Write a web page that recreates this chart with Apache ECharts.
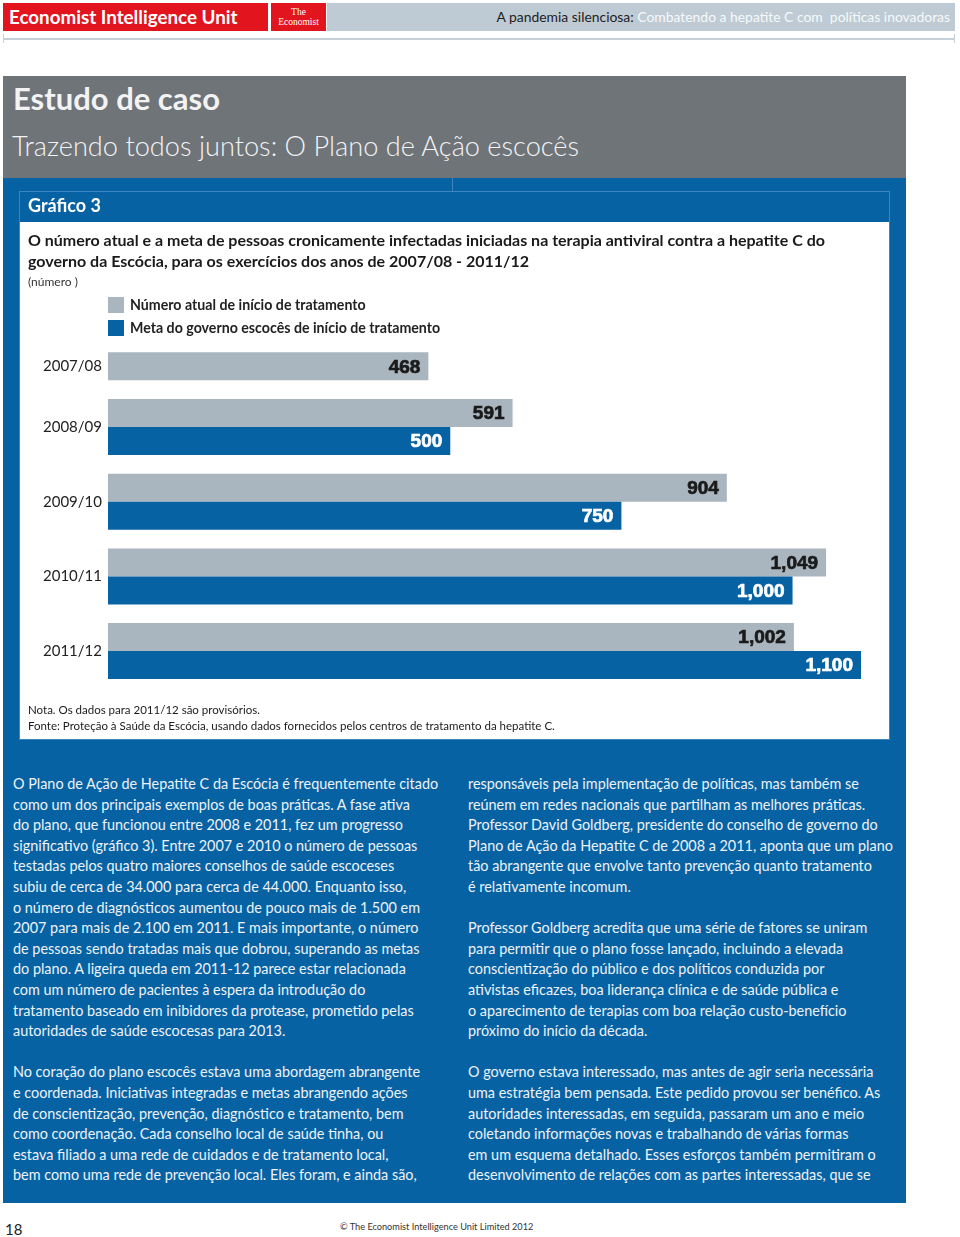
<!DOCTYPE html>
<html>
<head>
<meta charset="utf-8">
<script src="https://cdn.jsdelivr.net/npm/echarts@6/dist/echarts.min.js"></script>
<style>
  html, body { margin: 0; padding: 0; background: #ffffff; }
  #page { position: relative; width: 960px; height: 1237px; overflow: hidden; font-family: Lato, "Open Sans", sans-serif; }
  .abs { position: absolute; }
  #eiu { left: 3px; top: 3px; width: 265px; height: 28px; background: #e2141d; color: #fff; font: bold 18.8px Lato, sans-serif; line-height: 28px; padding-left: 6px; box-sizing: border-box; white-space: nowrap; }
  #econ { left: 271px; top: 3px; width: 55px; height: 28px; background: #e2141d; color: #fff; font: 9.5px "Liberation Serif", "DejaVu Serif", serif; line-height: 9.5px; text-align: center; padding-top: 5px; box-sizing: border-box; }
  #hband { left: 327px; top: 3px; width: 628px; height: 28px; background: #bfcbd4; }
  #htext { right: 10px; top: 3px; height: 28px; line-height: 28px; font-size: 13.9px; white-space: nowrap; color: #f6f9fb; }
  #htext b { font-weight: normal; color: #1e1e1e; }
  #hline { left: 3px; top: 38px; width: 952px; height: 2px; background: #c6d0d8; }
  #greyblk { left: 3px; top: 76px; width: 903px; height: 102px; background: #6f7479; }
  #case { left: 13px; top: 79px; font: bold 31px Lato, sans-serif; color: #f3f3f3; white-space: nowrap; }
  #sub { left: 12px; top: 129px; font: 300 27.2px Lato, sans-serif; color: #f3f3f3; white-space: nowrap; }
  #blueblk { left: 3px; top: 178px; width: 903px; height: 1025px; background: #0762a3; }
  #chartframe { left: 19px; top: 191px; width: 871px; height: 549px; border: 1px solid #3d85bf; box-sizing: border-box; }
  #whitepanel { left: 20px; top: 222px; width: 869px; height: 517px; background: #ffffff; }
  #chart { left: 20px; top: 192px; width: 869px; height: 547px; }
  .col { top: 774px; font-size: 14.4px; line-height: 20.6px; color: #edf2f7; white-space: nowrap; }
  #pg { left: 5px; top: 1220px; font-size: 15px; color: #222; }
  #copy { left: 340px; top: 1221px; font-size: 9.2px; color: #333; white-space: nowrap; }
</style>
</head>
<body>
<div id="page">
  <div id="eiu" class="abs">Economist Intelligence Unit</div>
  <div id="econ" class="abs">The<br>Economist</div>
  <div id="hband" class="abs"></div>
  <div id="htext" class="abs"><b>A pandemia silenciosa:</b> Combatendo a hepatite C com&nbsp; políticas inovadoras</div>
  <div id="hline" class="abs"></div>
  <div class="abs" style="left:3px;top:34px;width:1px;height:9px;background:#c6d0d8"></div>
  <div class="abs" style="left:954px;top:34px;width:1px;height:9px;background:#c6d0d8"></div>

  <div id="greyblk" class="abs"></div>
  <div id="case" class="abs">Estudo de caso</div>
  <div id="sub" class="abs">Trazendo todos juntos: O Plano de Ação escocês</div>

  <div id="blueblk" class="abs"></div>
  <div class="abs" style="left:452px;top:178px;width:1px;height:13px;background:#3d85bf"></div>
  <div id="chartframe" class="abs"></div>
  <div id="whitepanel" class="abs"></div>
  <div id="chart" class="abs"></div>

  <div class="abs col" style="left:13px">
O Plano de Ação de Hepatite C da Escócia é frequentemente citado<br>
como um dos principais exemplos de boas práticas. A fase ativa<br>
do plano, que funcionou entre 2008 e 2011, fez um progresso<br>
significativo (gráfico 3). Entre 2007 e 2010 o número de pessoas<br>
testadas pelos quatro maiores conselhos de saúde escoceses<br>
subiu de cerca de 34.000 para cerca de 44.000. Enquanto isso,<br>
o número de diagnósticos aumentou de pouco mais de 1.500 em<br>
2007 para mais de 2.100 em 2011. E mais importante, o número<br>
de pessoas sendo tratadas mais que dobrou, superando as metas<br>
do plano. A ligeira queda em 2011-12 parece estar relacionada<br>
com um número de pacientes à espera da introdução do<br>
tratamento baseado em inibidores da protease, prometido pelas<br>
autoridades de saúde escocesas para 2013.<br>
<br>
No coração do plano escocês estava uma abordagem abrangente<br>
e coordenada. Iniciativas integradas e metas abrangendo ações<br>
de conscientização, prevenção, diagnóstico e tratamento, bem<br>
como coordenação. Cada conselho local de saúde tinha, ou<br>
estava filiado a uma rede de cuidados e de tratamento local,<br>
bem como uma rede de prevenção local. Eles foram, e ainda são,
  </div>
  <div class="abs col" style="left:468px">
responsáveis pela implementação de políticas, mas também se<br>
reúnem em redes nacionais que partilham as melhores práticas.<br>
Professor David Goldberg, presidente do conselho de governo do<br>
Plano de Ação da Hepatite C de 2008 a 2011, aponta que um plano<br>
tão abrangente que envolve tanto prevenção quanto tratamento<br>
é relativamente incomum.<br>
<br>
Professor Goldberg acredita que uma série de fatores se uniram<br>
para permitir que o plano fosse lançado, incluindo a elevada<br>
conscientização do público e dos políticos conduzida por<br>
ativistas eficazes, boa liderança clínica e de saúde pública e<br>
o aparecimento de terapias com boa relação custo-benefício<br>
próximo do início da década.<br>
<br>
O governo estava interessado, mas antes de agir seria necessária<br>
uma estratégia bem pensada. Este pedido provou ser benéfico. As<br>
autoridades interessadas, em seguida, passaram um ano e meio<br>
coletando informações novas e trabalhando de várias formas<br>
em um esquema detalhado. Esses esforços também permitiram o<br>
desenvolvimento de relações com as partes interessadas, que se
  </div>

  <div id="pg" class="abs">18</div>
  <div id="copy" class="abs">© The Economist Intelligence Unit Limited 2012</div>
</div>

<script>
// ---- data ----
const categories = ['2007/08', '2008/09', '2009/10', '2010/11', '2011/12'];
const actualStarts = [468, 591, 904, 1049, 1002];
const targetStarts = [null, 500, 750, 1000, 1100];
const seriesNames = ['Número atual de início de tratamento', 'Meta do governo escocês de início de tratamento'];
const chartTitle = 'O número atual e a meta de pessoas cronicamente infectadas iniciadas na terapia antiviral contra a hepatite C do\ngoverno da Escócia, para os exercícios dos anos de 2007/08 - 2011/12';
const unitLabel = '(número )';
const noteText = 'Nota. Os dados para 2011/12 são provisórios.\nFonte: Proteção à Saúde da Escócia, usando dados fornecidos pelos centros de tratamento da hepatite C.';

const GREY = '#a9b5bf';
const BLUE = '#0762a3';
const fmt = v => v.toLocaleString('en-US');
const hasTarget = targetStarts.map(v => v != null);

const chart = echarts.init(document.getElementById('chart'), null, { renderer: 'canvas' });

function barRender(kind) {
  return function (params, api) {
    const v = api.value(0);
    const ci = api.value(1);
    if (v == null || isNaN(v)) return null;
    const base = api.coord([0, ci]);
    const end = api.coord([v, ci]);
    const h = api.size([0, 1])[1] * 0.375;
    let y0;
    if (kind === 'actual') {
      y0 = api.value(2) ? base[1] - h : base[1];
    } else {
      y0 = base[1];
    }
    return {
      type: 'group',
      children: [
        { type: 'rect', shape: { x: base[0], y: y0, width: end[0] - base[0], height: h },
          style: { fill: kind === 'actual' ? GREY : BLUE } },
        { type: 'text', style: { text: fmt(v), x: end[0] - 8, y: y0 + h / 2 + 1, align: 'right', verticalAlign: 'middle',
            fill: kind === 'actual' ? '#1a1a1a' : '#ffffff', font: 'bold 19px "Liberation Sans", Arial, sans-serif',
            stroke: kind === 'actual' ? '#1a1a1a' : '#ffffff', lineWidth: 0.7 } }
      ]
    };
  };
}

chart.setOption({
  animation: false,
  color: [GREY, BLUE],
  title: [
    { text: 'Gráfico 3', left: 8, top: 5, padding: 0, textStyle: { color: '#ffffff', fontFamily: 'Lato', fontWeight: 'bold', fontSize: 18 } },
    { text: chartTitle, left: 8, top: 38, padding: 0, textStyle: { color: '#1a1a1a', fontFamily: 'Lato', fontWeight: 'bold', fontSize: 16, lineHeight: 21 } },
    { text: unitLabel, left: 8, top: 84, padding: 0, textStyle: { color: '#333', fontFamily: 'Lato', fontWeight: 'normal', fontSize: 12 } },
    { text: noteText, left: 8, top: 511, padding: 0, textStyle: { color: '#1a1a1a', fontFamily: 'Lato', fontWeight: 'normal', fontSize: 11.5, lineHeight: 15.5 } }
  ],
  legend: {
    orient: 'vertical', left: 88, top: 105, padding: 0, itemWidth: 16, itemHeight: 16, itemGap: 7, icon: 'rect',
    data: seriesNames,
    textStyle: { color: '#222', fontFamily: 'Lato', fontWeight: 'bold', fontSize: 14.2, padding: [0, 0, 0, 1] },
    selectedMode: false
  },
  grid: { left: 88, right: 28, top: 123, height: 373.4 },
  xAxis: { type: 'value', min: 0, max: 1100, show: false },
  yAxis: {
    type: 'category', data: categories, inverse: true,
    axisLine: { show: false }, axisTick: { show: false }, splitLine: { show: false },
    axisLabel: {
      margin: 6, color: '#222', fontFamily: 'Lato', fontSize: 15,
      formatter: (v, i) => hasTarget[i] ? v : '{s|' + v + '}',
      rich: { s: { padding: [28, 0, 0, 0], color: '#222', fontFamily: 'Lato', fontSize: 15 } }
    }
  },
  series: [
    { type: 'custom', name: seriesNames[0], itemStyle: { color: GREY }, renderItem: barRender('actual'),
      encode: { x: 0, y: 1 },
      data: categories.map((c, i) => [actualStarts[i], i, hasTarget[i] ? 1 : 0]) },
    { type: 'custom', name: seriesNames[1], itemStyle: { color: BLUE }, renderItem: barRender('target'),
      encode: { x: 0, y: 1 },
      data: categories.map((c, i) => [targetStarts[i], i]) }
  ]
});
</script>
</body>
</html>
